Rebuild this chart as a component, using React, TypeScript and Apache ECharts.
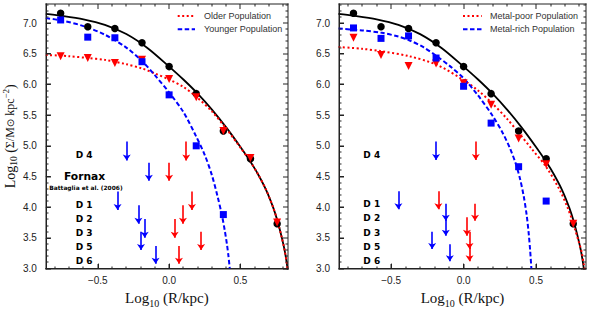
import React, { useEffect, useRef } from 'react';
import * as echarts from 'echarts';

// ---------- data ----------
const radiusLog = [-0.76, -0.57, -0.38, -0.19, 0.0, 0.19, 0.38, 0.57, 0.757];
const totalDensity = [7.16, 6.94, 6.91, 6.68, 6.29, 5.85, 5.24, 4.79, 3.73];
const youngerDensity = [7.05, 6.77, 6.76, 6.37, 5.83, 5.0, 3.88];
const olderDensity = [6.46, 6.43, 6.35, 6.4, 6.09, 5.79, 5.24, 4.8, 3.75];
const metalRichDensity = [6.92, 6.75, 6.79, 6.43, 5.97, 5.37, 4.66, 4.1];
const metalPoorDensity = [6.76, 6.48, 6.3, 6.34, 6.02, 5.67, 5.12, 4.7, 3.73];

// fitted profile curves
const totalFitX = [-0.864, -0.76, -0.6, -0.45, -0.3, -0.15, 0.0, 0.1, 0.2, 0.3, 0.4, 0.5, 0.57, 0.62, 0.68, 0.73, 0.76, 0.79, 0.81, 0.825, 0.835];
const totalFitY = [7.15, 7.12, 7.06, 6.97, 6.82, 6.59, 6.29, 6.08, 5.85, 5.59, 5.3, 4.98, 4.74, 4.55, 4.28, 3.99, 3.77, 3.5, 3.29, 3.08, 2.9];
const olderFitX = [-0.864, -0.7, -0.57, -0.45, -0.3, -0.19, -0.1, 0.0, 0.1, 0.19, 0.3, 0.4, 0.5, 0.57, 0.62, 0.68, 0.73, 0.76, 0.79, 0.81, 0.825, 0.835];
const olderFitY = [6.48, 6.46, 6.43, 6.4, 6.33, 6.26, 6.18, 6.08, 5.96, 5.8, 5.56, 5.28, 4.97, 4.74, 4.55, 4.28, 3.99, 3.77, 3.5, 3.29, 3.08, 2.9];
const youngerFitX = [-0.864, -0.75, -0.6, -0.45, -0.3, -0.19, -0.1, 0.0, 0.1, 0.19, 0.25, 0.3, 0.34, 0.37, 0.39, 0.405, 0.415, 0.425];
const youngerFitY = [7.08, 7.04, 6.95, 6.81, 6.6, 6.38, 6.15, 5.87, 5.55, 5.15, 4.85, 4.52, 4.17, 3.87, 3.62, 3.4, 3.22, 3.0];
const metalPoorFitX = [-0.863, -0.7, -0.564, -0.376, -0.185, 0.0, 0.1, 0.194, 0.3, 0.378, 0.47, 0.569, 0.666, 0.72, 0.757, 0.769, 0.792, 0.815, 0.831, 0.838];
const metalPoorFitY = [6.61, 6.58, 6.54, 6.46, 6.32, 6.07, 5.9, 5.7, 5.44, 5.22, 4.95, 4.66, 4.27, 3.98, 3.74, 3.64, 3.46, 3.27, 3.05, 2.95];
const metalRichFitX = [-0.863, -0.7, -0.564, -0.45, -0.376, -0.28, -0.185, -0.09, 0.0, 0.1, 0.2, 0.27, 0.32, 0.36, 0.39, 0.415, 0.435, 0.45, 0.46, 0.468];
const metalRichFitY = [6.91, 6.88, 6.84, 6.78, 6.72, 6.61, 6.46, 6.29, 6.1, 5.82, 5.49, 5.21, 4.96, 4.71, 4.46, 4.18, 3.88, 3.56, 3.28, 3.0];

// dwarf-galaxy limit arrows (rows D4, Fornax, D1, D2, D3, D5, D6)
const leftArrowTop = [5.07, 4.725, 4.256, 4.033, 3.806, 3.599, 3.37];
const leftArrowTip = [4.76, 4.43, 3.954, 3.731, 3.504, 3.302, 3.079];
const leftBlueArrowX = [-0.297, -0.142, -0.361, -0.215, -0.171, -0.197, -0.095];
const leftRedArrowX = [0.12, 0.0, 0.16, 0.097, 0.039, 0.224, 0.069];
// right panel rows D4, D1, D2, D3, D5, D6
const rightArrowTop = [5.07, 4.26, 4.057, 3.835, 3.6, 3.397];
const rightArrowTip = [4.77, 3.965, 3.78, 3.536, 3.318, 3.119];
const rightBlueArrowX = [-0.19, -0.45, -0.123, -0.123, -0.217, -0.095];
const rightRedArrowX = [0.084, -0.174, 0.079, 0.023, 0.041, 0.041];

const xMajorTicks = [-0.5, 0.0, 0.5];
const yMajorTicks = [3.0, 3.5, 4.0, 4.5, 5.0, 5.5, 6.0, 6.5, 7.0];
const xMinorTicks: number[] = [];
for (let i = -8; i <= 8; i++) xMinorTicks.push(i / 10);
const yMinorTicks: number[] = [];
for (let i = 30; i <= 73; i++) yMinorTicks.push(i / 10);

const leftLegend = ['Older Population', 'Younger Population'];
const rightLegend = ['Metal-poor Population', 'Metal-rich Population'];
const leftRowLabels = ['D 4', 'D 1', 'D 2', 'D 3', 'D 5', 'D 6'];
const rightRowLabels = ['D 4', 'D 1', 'D 2', 'D 3', 'D 5', 'D 6'];

// ---------- styling / layout ----------
const AX = '#222222';
const RED = '#ff0000';
const BLUE = '#0000ff';
const SANS = '"Liberation Sans", Arial, sans-serif';
const BOLD = '"DejaVu Sans", sans-serif';
const SERIF = '"Liberation Serif", "DejaVu Serif", serif';
const Y_MIN = 3.0;
const Y_MAX = 7.31;
const X_RANGE_L = [-0.864, 0.833];
const X_RANGE_R = [-0.86, 0.845];
const GRID_L = { left: 43, top: 4, width: 245, height: 271 };
const GRID_R = { left: 339, top: 4, width: 247, height: 271 };

const pairs = (xs: number[], ys: number[]) => xs.map((x, i) => [x, ys[i]]);
const isMajor = (v: number, majors: number[]) => majors.some((m) => Math.abs(m - v) < 1e-6);

const xNameRich = {
  a: { fontFamily: SERIF, fontSize: 15, lineHeight: 20, color: '#111', verticalAlign: 'middle' },
  s: { fontFamily: SERIF, fontSize: 10, lineHeight: 10, color: '#111', verticalAlign: 'bottom' },
};
const yNameRich = {
  a: { fontFamily: SERIF, fontSize: 14, lineHeight: 18, color: '#111', verticalAlign: 'middle' },
  m: { fontFamily: SERIF, fontSize: 12, lineHeight: 18, color: '#111', verticalAlign: 'middle' },
  o: { fontFamily: '"DejaVu Sans", sans-serif', fontSize: 10, lineHeight: 18, color: '#111', verticalAlign: 'middle' },
  s: { fontFamily: SERIF, fontSize: 9.5, lineHeight: 9, color: '#111', verticalAlign: 'bottom' },
  p: { fontFamily: SERIF, fontSize: 9, lineHeight: 9, color: '#111', verticalAlign: 'top' },
};

function xAxis(grid: number, range: number[]) {
  return {
    type: 'value', gridIndex: grid, min: range[0], max: range[1], position: 'bottom',
    splitLine: { show: false },
    axisLine: { show: true, onZero: false, lineStyle: { color: AX, width: 1 } },
    axisTick: { show: true, inside: true, length: 5, customValues: xMajorTicks, lineStyle: { color: AX, width: 1 } },
    axisLabel: {
      customValues: xMajorTicks, margin: 7, fontSize: 10, fontFamily: SANS, color: AX,
      formatter: (v: number) => v.toFixed(1).replace('-', '\u2212'),
    },
    name: '{a|Log}{s|10}{a| (R/kpc)}', nameLocation: 'middle', nameGap: 17,
    nameTextStyle: { rich: xNameRich },
  };
}

function yAxis(grid: number, withName: boolean) {
  const ax: any = {
    type: 'value', gridIndex: grid, min: Y_MIN, max: Y_MAX, position: 'left',
    splitLine: { show: false },
    axisLine: { show: true, onZero: false, lineStyle: { color: AX, width: 1 } },
    axisTick: { show: true, inside: true, length: 5, customValues: yMajorTicks, lineStyle: { color: AX, width: 1 } },
    axisLabel: {
      customValues: yMajorTicks, margin: 9, fontSize: 10, fontFamily: SANS, color: AX,
      formatter: (v: number) => v.toFixed(1),
    },
  };
  if (withName) {
    ax.name = '{a|Log}{s|10}{a| (}{m|\u03a3/M}{o|\u2299}{m| kpc}{p|\u22122}{a|)}';
    ax.nameLocation = 'middle';
    ax.nameRotate = 90;
    ax.nameGap = 22;
    ax.nameTextStyle = { rich: yNameRich };
  }
  return ax;
}

function curve(ax: number, xs: number[], ys: number[], color: string, type: any, width: number, z: number) {
  return {
    type: 'line', xAxisIndex: ax, yAxisIndex: ax, data: pairs(xs, ys),
    showSymbol: false, symbol: 'none', smooth: 0.3, clip: true,
    lineStyle: { color, type, width }, z, silent: true,
  };
}

function points(ax: number, xs: number[], ys: number[], color: string, symbol: string, size: number, rotate: number, z: number) {
  return {
    type: 'scatter', xAxisIndex: ax, yAxisIndex: ax, data: pairs(xs.slice(0, ys.length), ys),
    symbol, symbolSize: size, symbolRotate: rotate, itemStyle: { color, opacity: 1 }, z, silent: true,
  };
}

function arrows(ax: number, xs: number[], tops: number[], tips: number[], color: string) {
  return {
    type: 'lines', coordinateSystem: 'cartesian2d', xAxisIndex: ax, yAxisIndex: ax,
    data: xs.map((x, i) => ({ coords: [[x, tops[i]], [x, tips[i]]] })),
    symbol: ['none', 'arrow'], symbolSize: 6,
    lineStyle: { color, width: 1.6, opacity: 1 }, z: 6, silent: true,
  };
}

function txt(x: number, y: number, text: string, size: number, family: string, weight: any, fill: string) {
  return {
    type: 'text', x, y, silent: true,
    style: {
      text, fontSize: size, fontFamily: family, fontWeight: weight, fill,
      align: 'left', verticalAlign: 'middle', textAlign: 'left', textVerticalAlign: 'middle',
    },
  };
}

function segment(x1: number, y1: number, x2: number, y2: number, color: string, width: number, dash?: number[]) {
  const style: any = { stroke: color, lineWidth: width };
  if (dash) style.lineDash = dash;
  return { type: 'line', silent: true, z: 100, shape: { x1, y1, x2, y2 }, style };
}

// filled bar (used for frame edges and ticks so they do not depend on strokes)
function bar(x: number, y: number, w: number, h: number, color: string) {
  return { type: 'rect', silent: true, z: 100, shape: { x, y, width: w, height: h }, style: { fill: color } };
}

const DOT = [2, 2.5];
const DASH = [4.5, 2.5];

const leftRowY = [154.5, 205, 219, 233.3, 247.3, 260.7];
const rightRowY = [155, 204.3, 218.3, 232.7, 246.7, 260.7];

const baseGraphics: any[] = [
  segment(177.7, 16, 195, 16, RED, 2, DOT),
  txt(204, 16, leftLegend[0], 9, SANS, 'normal', '#333'),
  segment(177.7, 29.3, 195, 29.3, BLUE, 2, DASH),
  txt(204, 29.3, leftLegend[1], 9, SANS, 'normal', '#333'),
  segment(463, 16, 481.7, 16, RED, 2, DOT),
  txt(490, 16, rightLegend[0], 9, SANS, 'normal', '#333'),
  segment(463, 29.3, 481.7, 29.3, BLUE, 2, DASH),
  txt(490, 29.3, rightLegend[1], 9, SANS, 'normal', '#333'),
  ...leftRowLabels.map((t, i) => txt(75.7, leftRowY[i], t, 9, BOLD, 'bold', '#000')),
  txt(64, 176.7, 'Fornax', 10.7, BOLD, 'bold', '#000'),
  txt(49.3, 187.5, 'Battaglia et al. (2006)', 5.9, BOLD, 'bold', '#000'),
  ...rightRowLabels.map((t, i) => txt(363.3, rightRowY[i], t, 9, BOLD, 'bold', '#000')),
];

const option: any = {
  animation: false,
  grid: [GRID_L, GRID_R],
  xAxis: [xAxis(0, X_RANGE_L), xAxis(1, X_RANGE_R)],
  yAxis: [yAxis(0, true), yAxis(1, false)],
  series: [
    curve(0, totalFitX, totalFitY, '#000', 'solid', 1.8, 2),
    curve(0, olderFitX, olderFitY, RED, DOT, 2, 3),
    curve(0, youngerFitX, youngerFitY, BLUE, DASH, 2, 3),
    points(0, radiusLog, totalDensity, '#000', 'circle', 7.5, 0, 4),
    points(0, radiusLog, olderDensity, RED, 'triangle', 8, 180, 5),
    points(0, radiusLog, youngerDensity, BLUE, 'rect', 7, 0, 5),
    arrows(0, leftBlueArrowX, leftArrowTop, leftArrowTip, BLUE),
    arrows(0, leftRedArrowX, leftArrowTop, leftArrowTip, RED),
    curve(1, totalFitX, totalFitY, '#000', 'solid', 1.8, 2),
    curve(1, metalPoorFitX, metalPoorFitY, RED, DOT, 2, 3),
    curve(1, metalRichFitX, metalRichFitY, BLUE, DASH, 2, 3),
    points(1, radiusLog, totalDensity, '#000', 'circle', 7.5, 0, 4),
    points(1, radiusLog, metalPoorDensity, RED, 'triangle', 8, 180, 5),
    points(1, radiusLog, metalRichDensity, BLUE, 'rect', 7, 0, 5),
    arrows(1, rightBlueArrowX, rightArrowTop, rightArrowTip, BLUE),
    arrows(1, rightRedArrowX, rightArrowTop, rightArrowTip, RED),
  ],
  graphic: baseGraphics,
};

// frame + inward ticks, positioned with the chart's own scales, drawn as filled bars
function frameGraphics(chart: any): any[] {
  const out: any[] = [];
  const panels: [number, number[]][] = [[0, X_RANGE_L], [1, X_RANGE_R]];
  panels.forEach(([g, range]) => {
    const px = (x: number, y: number) => chart.convertToPixel({ gridIndex: g }, [x, y]);
    const bl = px(range[0], Y_MIN);
    const tr = px(range[1], Y_MAX);
    if (!bl || !tr) return;
    const L = Math.round(bl[0]);
    const B = Math.round(bl[1]);
    const R = Math.round(tr[0]);
    const T = Math.round(tr[1]);
    const w = 1;
    out.push(bar(L - 0.5, B - 0.5, R - L + 1, w, AX));
    out.push(bar(L - 0.5, T - 0.5, R - L + 1, w, AX));
    out.push(bar(L - 0.5, T - 0.5, w, B - T + 1, AX));
    out.push(bar(R - 0.5, T - 0.5, w, B - T + 1, AX));
    xMinorTicks.forEach((v) => {
      const len = isMajor(v, xMajorTicks) ? 5 : 2.5;
      const x = Math.round(px(v, Y_MIN)[0]);
      out.push(bar(x - 0.5, B - len, w, len, AX));
      out.push(bar(x - 0.5, T, w, len, AX));
    });
    yMinorTicks.forEach((v) => {
      const len = isMajor(v, yMajorTicks) ? 5 : 2.5;
      const y = Math.round(px(range[0], v)[1]);
      out.push(bar(L, y - 0.5, len, w, AX));
      out.push(bar(R - len, y - 0.5, len, w, AX));
    });
  });
  return out;
}

export default function App() {
  const ref = useRef<HTMLDivElement>(null);
  useEffect(() => {
    if (!ref.current) return;
    const chart = echarts.init(ref.current, null, { renderer: 'svg' });
    chart.setOption(option);
    try {
      chart.setOption({ graphic: [...baseGraphics, ...frameGraphics(chart)] });
    } catch (e) {
      // keep the base chart if conversion fails
    }
    return () => chart.dispose();
  }, []);
  return (
    <div
      ref={ref}
      style={{ position: 'absolute', left: 0, top: 0, width: 590, height: 313, background: '#fff' }}
    />
  );
}
